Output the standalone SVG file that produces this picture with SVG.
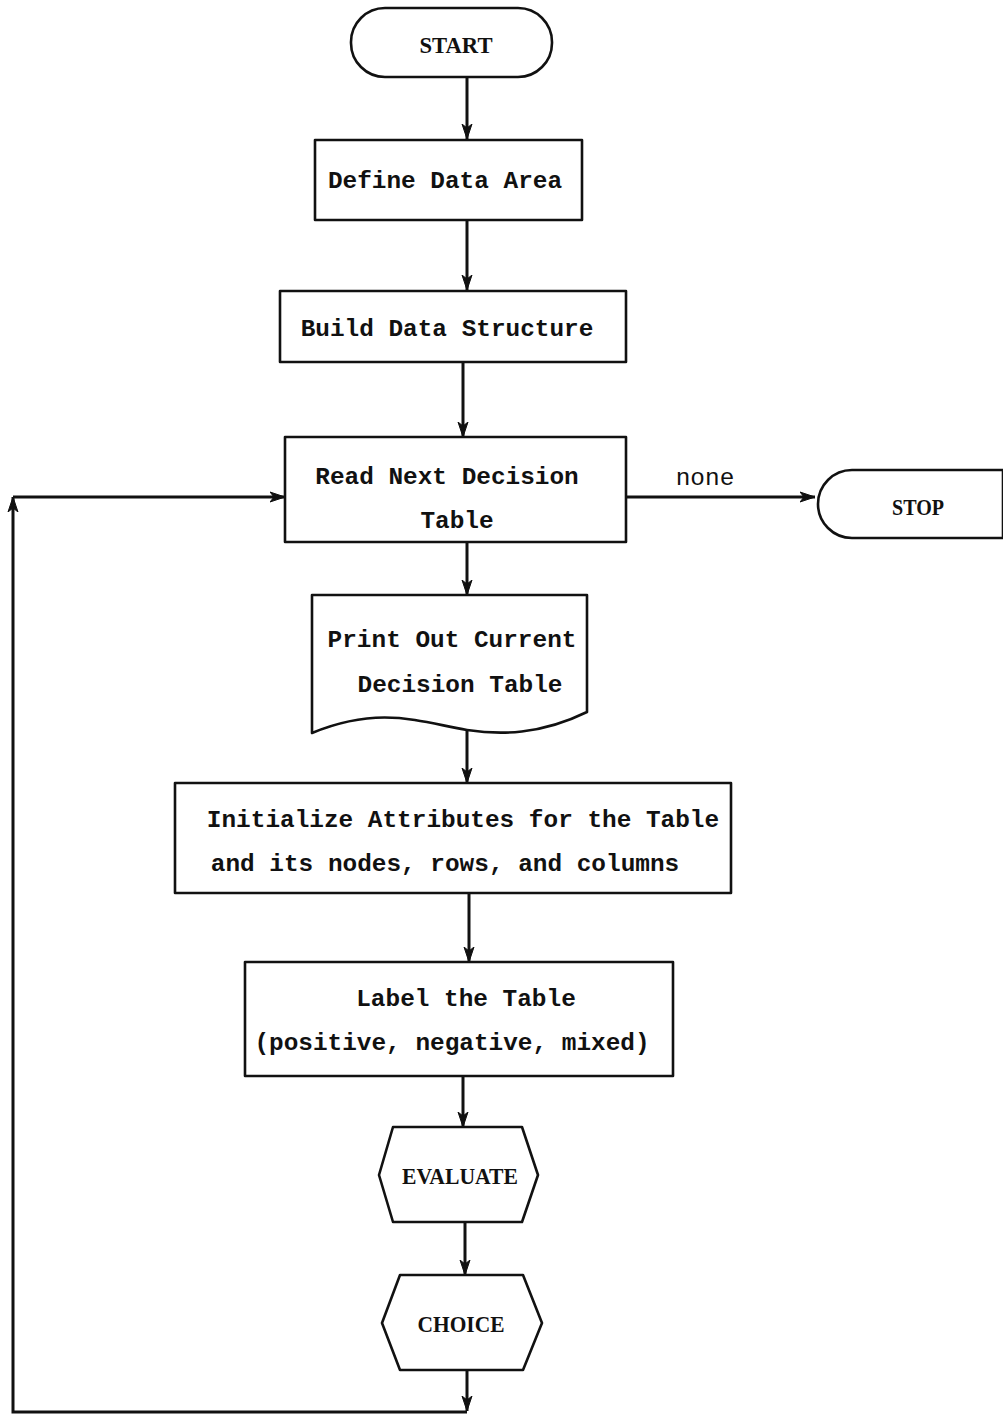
<svg xmlns="http://www.w3.org/2000/svg" width="1003" height="1416" viewBox="0 0 1003 1416">
<style>
.shape{fill:#fff;stroke:#111;stroke-width:2.6;stroke-linejoin:round}
.conn{fill:none;stroke:#111;stroke-width:3}
.mono{font-family:"Liberation Mono","DejaVu Sans Mono",monospace;font-size:24.4px;font-weight:bold;fill:#111;text-anchor:middle}
.serif{font-family:"Liberation Serif","DejaVu Serif",serif;font-size:23px;font-weight:bold;fill:#111;text-anchor:middle}
</style>
<defs>
<marker id="arr" viewBox="0 0 16 12" refX="15" refY="6" markerWidth="16" markerHeight="12" markerUnits="userSpaceOnUse" orient="auto">
<path d="M0,1 L15,6 L0,11 L4,6 z" fill="#111" stroke="#111" stroke-width="1"/>
</marker>
</defs>
<rect width="1003" height="1416" fill="#fff"/>
<g id="connectors">
<path class="conn" d="M467,77 L467,139" marker-end="url(#arr)"/>
<path class="conn" d="M467,220 L467,290" marker-end="url(#arr)"/>
<path class="conn" d="M463,362 L463,437" marker-end="url(#arr)"/>
<path class="conn" d="M467,542 L467,595" marker-end="url(#arr)"/>
<path class="conn" d="M467,731 L467,783" marker-end="url(#arr)"/>
<path class="conn" d="M469,893 L469,962" marker-end="url(#arr)"/>
<path class="conn" d="M463,1076 L463,1127" marker-end="url(#arr)"/>
<path class="conn" d="M465,1222 L465,1275" marker-end="url(#arr)"/>
<path class="conn" d="M467,1370 L467,1411" marker-end="url(#arr)"/>
<path class="conn" d="M467,1412 L13,1412 L13,497" marker-end="url(#arr)"/>
<path class="conn" d="M13,497 L285,497" marker-end="url(#arr)"/>
<path class="conn" d="M626,497 L815,497" marker-end="url(#arr)"/>
<text class="mono" x="705" y="485" style="font-weight:normal">none</text>
</g>
<g id="start">
<rect class="shape" x="351" y="8" width="201" height="69" rx="34"/>
<text class="serif" x="456" y="53" textLength="73" lengthAdjust="spacingAndGlyphs">START</text>
</g>
<g id="define">
<rect class="shape" x="315" y="140" width="267" height="80"/>
<text class="mono" x="445" y="188">Define Data Area</text>
</g>
<g id="build">
<rect class="shape" x="280" y="291" width="346" height="71"/>
<text class="mono" x="447" y="336">Build Data Structure</text>
</g>
<g id="read">
<rect class="shape" x="285" y="437" width="341" height="105"/>
<text class="mono" x="447" y="484">Read Next Decision</text>
<text class="mono" x="457" y="528">Table</text>
</g>
<g id="stop">
<path class="shape" d="M852,470 L1003,470 L1003,538 L852,538 A34,34 0 0 1 852,470 z"/>
<text class="serif" x="918" y="515" textLength="52" lengthAdjust="spacingAndGlyphs">STOP</text>
</g>
<g id="print">
<path class="shape" d="M312,595 L587,595 L587,712 C540,735 500,735 467,730 C420,722 380,705 312,733 z"/>
<text class="mono" x="452" y="647">Print Out Current</text>
<text class="mono" x="460" y="692">Decision Table</text>
</g>
<g id="init">
<rect class="shape" x="175" y="783" width="556" height="110"/>
<text class="mono" x="463" y="827">Initialize Attributes for the Table</text>
<text class="mono" x="445" y="871">and its nodes, rows, and columns</text>
</g>
<g id="label">
<rect class="shape" x="245" y="962" width="428" height="114"/>
<text class="mono" x="466" y="1006">Label the Table</text>
<text class="mono" x="452" y="1050">(positive, negative, mixed)</text>
</g>
<g id="evaluate">
<path class="shape" d="M379,1175 L393,1127 L522,1127 L538,1175 L522,1222 L393,1222 z"/>
<text class="serif" x="460" y="1184" textLength="116" lengthAdjust="spacingAndGlyphs">EVALUATE</text>
</g>
<g id="choice">
<path class="shape" d="M382,1323 L400,1275 L523,1275 L542,1323 L523,1370 L400,1370 z"/>
<text class="serif" x="461" y="1332" textLength="87" lengthAdjust="spacingAndGlyphs">CHOICE</text>
</g>
</svg>
